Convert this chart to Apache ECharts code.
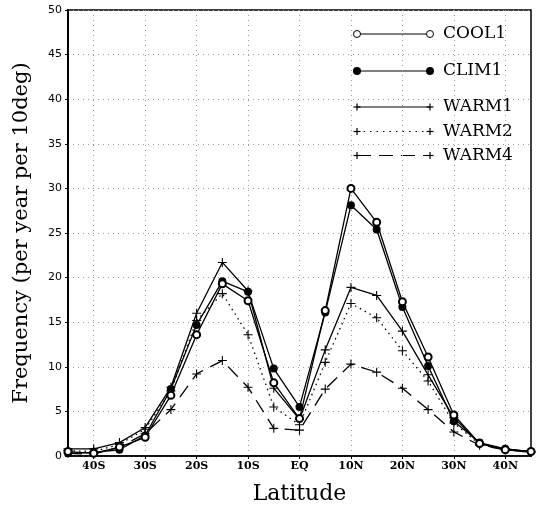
<!DOCTYPE html>
<html>
<head>
<meta charset="utf-8">
<script src="https://cdn.jsdelivr.net/npm/echarts@6/dist/echarts.min.js"></script>
<style>
  html, body { margin: 0; padding: 0; background: #fff; }
  #chart { width: 540px; height: 510px; }
</style>
</head>
<body>
<div id="chart"></div>
<script>
// 緯度（每 5 度一點）
const latitudes = ['45S', '40S', '35S', '30S', '25S', '20S', '15S', '10S', '5S', 'EQ',
                   '5N', '10N', '15N', '20N', '25N', '30N', '35N', '40N', '45N'];

// 頻率（per year per 10deg）
const cool1 = [0.5, 0.3, 1.0, 2.1, 6.8, 13.6, 19.3, 17.4, 8.2, 4.2, 16.3, 30.0, 26.2, 17.3, 11.1, 4.6, 1.4, 0.7, 0.5];
const clim1 = [0.3, 0.4, 0.7, 2.3, 7.5, 14.7, 19.6, 18.4, 9.8, 5.5, 16.1, 28.1, 25.4, 16.7, 10.1, 3.9, 1.5, 0.8, 0.5];
const warm1 = [0.8, 0.8, 1.5, 3.2, 7.7, 16.0, 21.7, 18.5, 7.6, 4.1, 11.9, 18.9, 18.0, 14.0, 9.1, 4.3, 1.4, 0.8, 0.5];
const warm2 = [0.6, 0.5, 1.3, 3.0, 7.3, 15.2, 18.2, 13.6, 5.5, 3.5, 10.5, 17.1, 15.5, 11.8, 8.4, 3.7, 1.3, 0.7, 0.5];
const warm4 = [0.3, 0.2, 1.0, 2.5, 5.2, 9.2, 10.7, 7.7, 3.1, 2.9, 7.5, 10.3, 9.4, 7.6, 5.2, 2.7, 1.2, 0.7, 0.4];

const seriesNames = ['COOL1', 'CLIM1', 'WARM1', 'WARM2', 'WARM4'];

const SERIF = '"DejaVu Serif", "Liberation Serif", serif';
const PLUS = 'path://M4.4,0h1.2v4.4h4.4v1.2h-4.4v4.4h-1.2v-4.4h-4.4v-1.2h4.4z';

const chart = echarts.init(document.getElementById('chart'), null, { renderer: 'canvas' });

// 隔一個顯示（40S, 30S, ... 40N）
const everyOther = (idx) => idx % 2 === 1;

function lineSeries(name, data, symbol, size, lineType) {
    return {
        name: name,
        type: 'line',
        data: data,
        symbol: symbol,
        symbolSize: size,
        showAllSymbol: true,
        lineStyle: { color: '#000', width: 1.3, type: lineType },
        itemStyle: { color: '#000', borderColor: '#000', borderWidth: symbol === 'emptyCircle' ? 1 : 0 },
        emphasis: { disabled: true },
        animation: false
    };
}

// 圖例（手繪）
function legendItem(y, label, kind, dash) {
    const x1 = 357, x2 = 430;
    const items = [{
        type: 'line',
        shape: { x1: x1, y1: y, x2: x2, y2: y },
        style: { stroke: '#000', lineWidth: 1.2, lineDash: dash || null }
    }];
    [x1, x2].forEach(x => {
        if (kind === 'open') {
            items.push({ type: 'circle', shape: { cx: x, cy: y, r: 3.5 }, style: { fill: '#fff', stroke: '#000', lineWidth: 1 } });
        } else if (kind === 'filled') {
            items.push({ type: 'circle', shape: { cx: x, cy: y, r: 4 }, style: { fill: '#000' } });
        } else {
            items.push({ type: 'line', shape: { x1: x - 3.5, y1: y, x2: x + 3.5, y2: y }, style: { stroke: '#000', lineWidth: 1.2 } });
            items.push({ type: 'line', shape: { x1: x, y1: y - 3.5, x2: x, y2: y + 3.5 }, style: { stroke: '#000', lineWidth: 1.2 } });
        }
    });
    items.push({
        type: 'text', x: 443, y: y,
        style: { text: label, fill: '#000', font: '500 17px ' + SERIF, textVerticalAlign: 'middle' }
    });
    return { type: 'group', children: items, z: 100 };
}

chart.setOption({
    backgroundColor: '#fff',
    animation: false,
    grid: { left: 68, right: 9, top: 10, bottom: 54, show: true, borderColor: '#000', borderWidth: 1.5, backgroundColor: 'transparent' },
    xAxis: {
        type: 'category',
        data: latitudes,
        boundaryGap: false,
        name: 'Latitude',
        nameLocation: 'middle',
        nameGap: 27,
        nameTextStyle: { fontFamily: SERIF, fontSize: 22, color: '#000' },
        axisLine: { lineStyle: { color: '#000', width: 1.5 } },
        axisTick: { show: true, interval: everyOther, length: 3, lineStyle: { color: '#000' } },
        axisLabel: { interval: everyOther, fontFamily: SERIF, fontWeight: 'bold', fontSize: 11, color: '#000', margin: 5 },
        splitLine: { show: true, interval: everyOther, lineStyle: { color: '#999', type: [1, 4], width: 1 } }
    },
    yAxis: {
        type: 'value',
        min: 0, max: 50, interval: 5,
        name: 'Frequency (per year per 10deg)',
        nameLocation: 'middle',
        nameGap: 36,
        nameTextStyle: { fontFamily: SERIF, fontSize: 21, color: '#000' },
        axisLine: { show: true, lineStyle: { color: '#000', width: 2 } },
        axisTick: { show: true, length: 3, lineStyle: { color: '#000' } },
        axisLabel: { fontFamily: '"DejaVu Sans", sans-serif', fontSize: 11, color: '#000', margin: 6 },
        splitLine: { show: true, lineStyle: { color: '#999', type: [1, 4], width: 1 } }
    },
    series: [
        lineSeries(seriesNames[4], warm4, PLUS, 9, [14, 8]),
        lineSeries(seriesNames[3], warm2, PLUS, 9, [1.5, 4]),
        lineSeries(seriesNames[2], warm1, PLUS, 9, 'solid'),
        lineSeries(seriesNames[1], clim1, 'circle', 8, 'solid'),
        lineSeries(seriesNames[0], cool1, 'emptyCircle', 7, 'solid')
    ],
    graphic: [
        legendItem(34, seriesNames[0], 'open'),
        legendItem(71, seriesNames[1], 'filled'),
        legendItem(107, seriesNames[2], 'plus'),
        legendItem(131.5, seriesNames[3], 'plus', [1.5, 5]),
        legendItem(155.5, seriesNames[4], 'plus', [14, 8])
    ]
});
</script>
</body>
</html>
